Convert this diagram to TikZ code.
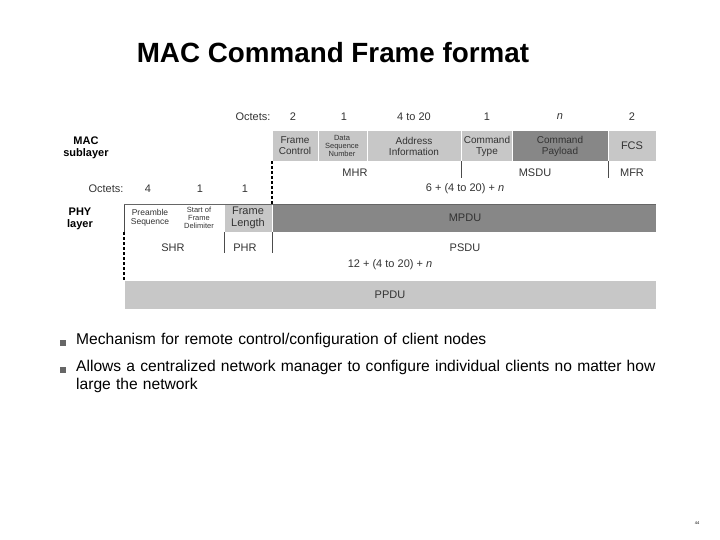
\documentclass[tikz,border=0pt]{standalone}
\usepackage{fontspec}
\setmainfont{Liberation Sans}
\begin{document}
\begin{tikzpicture}[x=1pt,y=-1pt,
  fld/.style={draw=white,line width=0.6pt,inner sep=0pt},
  lt/.style={fill=black!22},
  dk/.style={fill=black!47},
  lbl/.style={font=\fontsize{11}{12.5}\selectfont,text=black!80,align=center,inner sep=0pt},
  mid/.style={font=\fontsize{10}{11}\selectfont,text=black!80,align=center,inner sep=0pt},
  sm/.style={font=\fontsize{7.5}{8}\selectfont,text=black!80,align=center,inner sep=0pt},
  lay/.style={font=\bfseries\fontsize{11}{12.5}\selectfont,align=center,inner sep=0pt},
  dv/.style={black!70,line width=0.6pt},
  dsh/.style={black,line width=1.2pt,dash pattern=on 3pt off 2pt},
  btxt/.style={font=\fontsize{15.6}{18}\selectfont,anchor=north west,align=left,inner sep=0pt,text width=590pt}]
\useasboundingbox (0,0) rectangle (720,540);
\node[font=\bfseries\fontsize{27.8}{32}\selectfont] (title) at (333,53) {MAC Command Frame format};
% top octets
\node[lbl] (o0) at (253,117) {Octets:};
\node[lbl] (o1) at (293,117) {2};
\node[lbl] (o2) at (344,117) {1};
\node[lbl] (o3) at (414,117) {4 to 20};
\node[lbl] (o4) at (487,117) {1};
\node[lbl] (o5) at (560,117) {\itshape n};
\node[lbl] (o6) at (632,117) {2};
\node[lay] (mac) at (86,148) {MAC\\sublayer};
% MAC fields
\path[fld,lt] (272,130) rectangle (318,161);
\path[fld,lt] (318,130) rectangle (367,161);
\path[fld,lt] (367,130) rectangle (461,161);
\path[fld,lt] (461,130) rectangle (512,161);
\path[fld,dk] (512,130) rectangle (608,161);
\path[fld,lt] (608,130) rectangle (656,161);
\node[mid] (fc) at (295,146) {Frame\\Control};
\node[sm] (dsn) at (342,146) {Data\\Sequence\\Number};
\node[mid] (ai) at (414,146) {Address\\Information};
\node[mid] (ct) at (487,146) {Command\\Type};
\node[mid] (cp) at (560,146) {Command\\Payload};
\node[lbl] (fcs) at (632,146) {FCS};
\draw[dv] (461,161) -- (461,178);
\draw[dv] (608,161) -- (608,178);
\node[lbl] (mhr) at (355,173) {MHR};
\node[lbl] (msdu) at (535,173) {MSDU};
\node[lbl] (mfr) at (632,173) {MFR};
\draw[dsh] (272,161) -- (272,204);
% PHY octets
\node[lbl] (p0) at (106,189) {Octets:};
\node[lbl] (p1) at (148,189) {4};
\node[lbl] (p2) at (200,189) {1};
\node[lbl] (p3) at (245,189) {1};
\node[lbl] (p4) at (465,189) {6 + (4 to 20) + \itshape n};
\node[lay] (phy) at (80,219) {PHY\\layer};
\draw[black!70,line width=0.6pt] (124,204) -- (124,232);
\path[fld,lt] (224,204) rectangle (272,232);
\path[fld,dk] (272,204) rectangle (656,232);
\draw[black!60,line width=0.5pt] (124,204) -- (656,204);
\node[sm,font=\fontsize{8.5}{9.5}\selectfont] (pre) at (150,218) {Preamble\\Sequence};
\node[sm] (sfd) at (199,218) {Start of\\Frame\\Delimiter};
\node[lbl] (fl) at (248,218) {Frame\\Length};
\node[lbl] (mpdu) at (465,218) {MPDU};
\draw[dv] (224,232) -- (224,253);
\draw[dv] (272,232) -- (272,253);
\node[lbl] (shr) at (173,248) {SHR};
\node[lbl] (phr) at (245,248) {PHR};
\node[lbl] (psdu) at (465,248) {PSDU};
\draw[dsh] (124,232) -- (124,280);
\node[lbl] (tot) at (390,265) {12 + (4 to 20) + \itshape n};
\path[fld,lt] (124,280) rectangle (656,309);
\node[lbl] (ppdu) at (390,295) {PPDU};
% bullets
\fill[black!60] (60,340) rectangle (66,346);
\fill[black!60] (60,367) rectangle (66,373);
\node[btxt] (b1) at (76,333) {Mechanism for remote control/configuration of client nodes};
\node[btxt] (b2) at (76,360) {Allows a centralized network manager to configure individual clients no matter how large the network};
\node[font=\fontsize{4}{5}\selectfont] (pg) at (697,523) {44};
\end{tikzpicture}
\end{document}
